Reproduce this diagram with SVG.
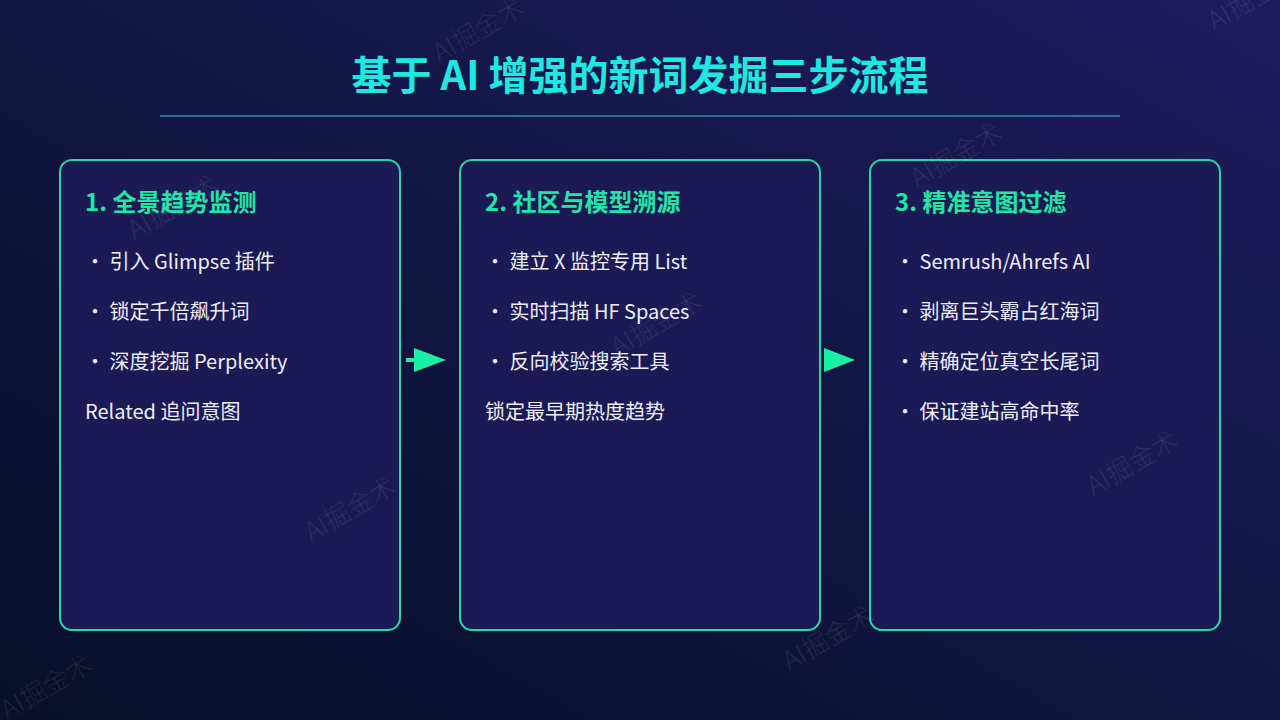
<svg xmlns="http://www.w3.org/2000/svg" width="1280" height="720" viewBox="0 0 1280 720">
<defs>
<linearGradient id="bg" x1="0" y1="1" x2="1" y2="0">
<stop offset="0" stop-color="#090f28"/>
<stop offset="0.5" stop-color="#121542"/>
<stop offset="1" stop-color="#1e1c5e"/>
</linearGradient>
<marker id="ah" markerWidth="8" markerHeight="6" refX="0" refY="3" orient="auto" markerUnits="strokeWidth">
<path d="M0,0 L8,3 L0,6 Z" fill="#19f0a3"/>
</marker>
<style>
.title{font-family:"Noto Sans CJK SC","Noto Sans",sans-serif;font-size:40px;font-weight:700;fill:#1ee8e2}
.card{fill:#1b1a54;stroke:#27d6a2;stroke-width:2}
.hd{font-family:"Noto Sans CJK SC","Noto Sans",sans-serif;font-size:24px;font-weight:700;fill:#21e6a6}
.it{font-family:"Noto Sans CJK SC","Noto Sans",sans-serif;font-size:20px;fill:#eceef8}
.wm{font-family:"Noto Sans CJK SC","Noto Sans",sans-serif;font-size:26px;font-weight:300;fill:#ffffff;fill-opacity:0.09;text-anchor:middle;dominant-baseline:central}
.arr{stroke:#19f0a3;stroke-width:4;fill:none}
</style>
</defs>
<rect width="1280" height="720" fill="url(#bg)"/>
<g id="title">
<text class="title" x="640" y="90" text-anchor="middle">基于 AI 增强的新词发掘三步流程</text>
<line x1="160" y1="116" x2="1120" y2="116" stroke="#2a6f96" stroke-width="2"/>
</g>
<g id="card1">
<rect class="card" x="60" y="160" width="340" height="470" rx="12"/>
<text class="hd" x="85" y="211">1. 全景趋势监测</text>
<text class="it" x="85" y="269">・ 引入 Glimpse 插件</text>
<text class="it" x="85" y="319">・ 锁定千倍飙升词</text>
<text class="it" x="85" y="369">・ 深度挖掘 Perplexity</text>
<text class="it" x="85" y="419">Related 追问意图</text>
</g>
<g id="card2">
<rect class="card" x="460" y="160" width="360" height="470" rx="12"/>
<text class="hd" x="485" y="211">2. 社区与模型溯源</text>
<text class="it" x="485" y="269">・ 建立 X 监控专用 List</text>
<text class="it" x="485" y="319">・ 实时扫描 HF Spaces</text>
<text class="it" x="485" y="369">・ 反向校验搜索工具</text>
<text class="it" x="485" y="419">锁定最早期热度趋势</text>
</g>
<g id="card3">
<rect class="card" x="870" y="160" width="350" height="470" rx="12"/>
<text class="hd" x="895" y="211">3. 精准意图过滤</text>
<text class="it" x="895" y="269">・ Semrush/Ahrefs AI</text>
<text class="it" x="895" y="319">・ 剥离巨头霸占红海词</text>
<text class="it" x="895" y="369">・ 精确定位真空长尾词</text>
<text class="it" x="895" y="419">・ 保证建站高命中率</text>
</g>
<g id="connectors">
<line class="arr" x1="406" y1="360" x2="414" y2="360" marker-end="url(#ah)"/>
<path d="M824,348 L855,360 L824,372 Z" fill="#19f0a3"/>
</g>
<g id="watermarks">
<text class="wm" transform="translate(172,205) rotate(-30)">AI掘金术</text>
<text class="wm" transform="translate(349,507) rotate(-30)">AI掘金术</text>
<text class="wm" transform="translate(477,28) rotate(-30)">AI掘金术</text>
<text class="wm" transform="translate(655,322) rotate(-30)">AI掘金术</text>
<text class="wm" transform="translate(955,153) rotate(-30)">AI掘金术</text>
<text class="wm" transform="translate(827,636) rotate(-30)">AI掘金术</text>
<text class="wm" transform="translate(1131,461) rotate(-30)">AI掘金术</text>
<text class="wm" transform="translate(45,685) rotate(-30)">AI掘金术</text>
<text class="wm" transform="translate(1252,-4) rotate(-30)">AI掘金术</text>
</g>
</svg>
